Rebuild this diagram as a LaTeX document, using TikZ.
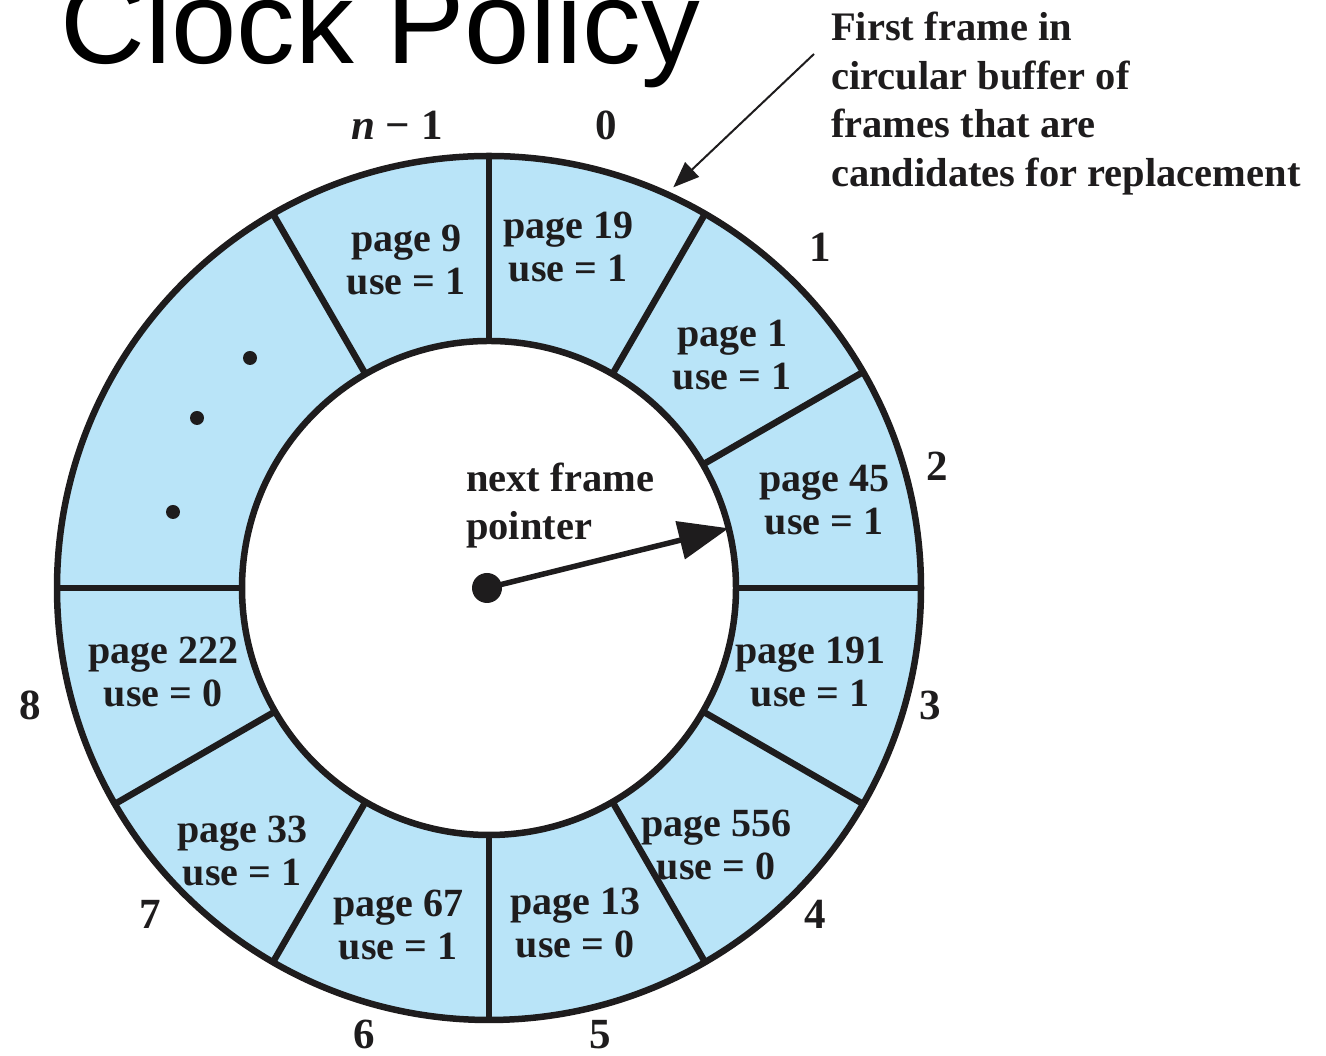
\documentclass[tikz,border=0pt]{standalone}
\usepackage{fontspec}
\setmainfont{Liberation Serif}
\newfontfamily\headfont{Liberation Sans}
\usetikzlibrary{arrows.meta,calc}
\definecolor{framefill}{RGB}{185,228,248}
\definecolor{ink}{RGB}{30,28,29}
\begin{document}
\begin{tikzpicture}[x=1pt,y=1pt,
  ringline/.style={draw=ink,line width=6.5pt},
  pagelabel/.style={align=center,inner sep=0pt,text=ink,font=\bfseries\fontsize{40}{43}\selectfont},
  slotnum/.style={anchor=base,inner sep=0pt,text=ink,font=\bfseries\fontsize{43}{46}\selectfont},
  note/.style={anchor=base west,align=left,inner sep=0pt,text=ink,font=\bfseries\fontsize{40.5}{48.5}\selectfont},
  ]
\useasboundingbox (0,0) rectangle (1326,1056);

% title
\node[anchor=base west,inner sep=0pt,font=\headfont\fontsize{117.5}{120}\selectfont] (title) at (60,992) {Clock Policy};

% circular buffer of frames
\coordinate (C) at (489,468);
\fill[framefill,even odd rule] (C) circle[radius=432] (C) circle[radius=247];
\draw[ringline] (C) circle[radius=432];
\draw[ringline] (C) circle[radius=247];
\foreach \a in {90,60,30,0,-30,-60,-90,-120,-150,180,120}
  \draw[ringline] ([shift={(\a:247)}]C) -- ([shift={(\a:432)}]C);

% elided frames
\fill[ink] (250,698) circle[radius=7];
\fill[ink] (197,638) circle[radius=7];
\fill[ink] (173,544) circle[radius=7];

% frame contents
\node[pagelabel] (segn) at (406,795.5) {page 9\\use = 1};
\node[pagelabel] (seg0) at (568,808.5) {page 19\\use = 1};
\node[pagelabel] (seg1) at (732,700.5) {page 1\\use = 1};
\node[pagelabel] (seg2) at (824,555.5) {page 45\\use = 1};
\node[pagelabel] (seg3) at (810,383.5) {page 191\\use = 1};
\node[pagelabel] (seg4) at (716,210.5) {page 556\\use = 0};
\node[pagelabel] (seg5) at (575,132.5) {page 13\\use = 0};
\node[pagelabel] (seg6) at (398,130.5) {page 67\\use = 1};
\node[pagelabel] (seg7) at (242,204.5) {page 33\\use = 1};
\node[pagelabel] (seg8) at (163,383.5) {page 222\\use = 0};

% frame numbers
\node[slotnum] (numn) at (397,916) {\textit{n} − 1};
\node[slotnum] (num0) at (606,916) {0};
\node[slotnum] (num1) at (820,794) {1};
\node[slotnum] (num2) at (937,575) {2};
\node[slotnum] (num3) at (930,336) {3};
\node[slotnum] (num4) at (815,127) {4};
\node[slotnum] (num5) at (600,7) {5};
\node[slotnum] (num6) at (364,7) {6};
\node[slotnum] (num7) at (150,127) {7};
\node[slotnum] (num8) at (30,336) {8};

% next frame pointer (anchored on the baseline of its last line)
\node[note] (ptrtext) at (466,516) {next frame\\pointer};
\node[circle,fill=ink,minimum size=30pt,inner sep=0pt] (hub) at (487,468) {};
\coordinate (aim) at ([shift={(14:247)}]C);
\draw[ink,line width=5.5pt,-{Triangle[length=50pt,width=38pt]}] (hub.center) -- (aim);

% note on the first frame (anchored on the baseline of its last line)
\node[note] (firstnote) at (831,869.5) {First frame in\\circular buffer of\\frames that are\\candidates for replacement};
\coordinate (notefoot) at (814,1002);
\coordinate (ringtop) at ([shift={(65.3:441)}]C);
\draw[ink,line width=2pt,-{Triangle[length=26pt,width=20pt]}] (notefoot) -- (ringtop);
\end{tikzpicture}
\end{document}
